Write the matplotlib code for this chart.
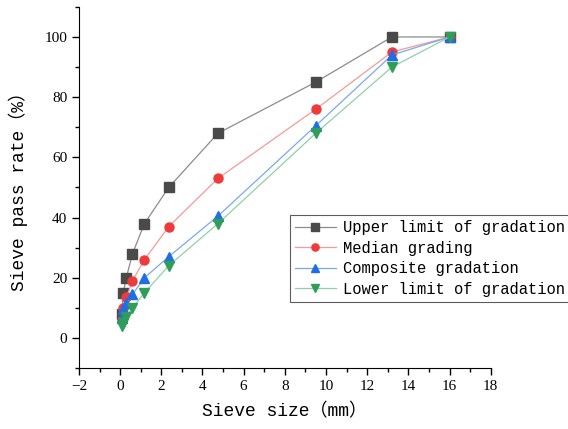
import matplotlib
matplotlib.use("Agg")
import matplotlib.pyplot as plt
from matplotlib.ticker import MultipleLocator

sieve = [0.075, 0.15, 0.3, 0.6, 1.18, 2.36, 4.75, 9.5, 13.2, 16]
upper = [8, 15, 20, 28, 38, 50, 68, 85, 100, 100]
median = [6, 10, 13.5, 19, 26, 37, 53, 76, 95, 100]
composite = [6.5, 9.5, 11.5, 14.5, 20, 27, 40.5, 70.5, 94, 100]
lower = [4, 5, 7, 10, 15, 24, 38, 68, 90, 100]
labels = ["Upper limit of gradation", "Median grading", "Composite gradation", "Lower limit of gradation"]
xticks = [-2, 0, 2, 4, 6, 8, 10, 12, 14, 16, 18]
yticks = [0, 20, 40, 60, 80, 100]

lab_font = ["Liberation Mono", "Noto Sans CJK SC"]
tick_font = "Liberation Serif"

fig = plt.figure(figsize=(5.68, 4.29), dpi=100)
ax = fig.add_axes([0.139, 0.142, 0.725, 0.842])

styles = [
    (upper, "s", "#4a4a4a", "#8c8c8c"),
    (median, "o", "#f03a3a", "#f59a9a"),
    (composite, "^", "#1f6ee6", "#7aa8ef"),
    (lower, "v", "#2e9e5a", "#8fd0a8"),
]
for (vals, mk, mc, lc), lab in zip(styles, labels):
    ax.plot(sieve, vals, color=lc, lw=0.9, marker=mk, ms=6.5,
            markerfacecolor=mc, markeredgecolor=mc, label=lab)

ax.set_xlim(-2, 18)
ax.set_ylim(-10, 110)
ax.set_xticks(xticks)
ax.set_xticklabels(["\u2212" + str(-v) if v < 0 else str(v) for v in xticks])
ax.xaxis.set_minor_locator(MultipleLocator(1))
ax.set_yticks(yticks)
ax.yaxis.set_minor_locator(MultipleLocator(10))
for s in ["top", "right"]:
    ax.spines[s].set_visible(False)
ax.tick_params(which="major", direction="out", length=5, width=1, labelsize=11)
ax.tick_params(which="minor", direction="out", length=3, width=1)
for t in ax.get_xticklabels() + ax.get_yticklabels():
    t.set_fontfamily(tick_font)

ax.set_xlabel("Sieve size\uff08mm\uff09", fontsize=13, family=lab_font, labelpad=7)
ax.set_ylabel("Sieve pass rate\uff08%\uff09", fontsize=13, family=lab_font, labelpad=12)

leg = ax.legend(loc="upper left", bbox_to_anchor=(0.512, 0.424), frameon=True, fancybox=False,
                prop={"family": lab_font, "size": 11.2}, handlelength=2.6, borderpad=0.35,
                labelspacing=0.35, handletextpad=0.5, borderaxespad=0, markerscale=0.8)
leg.get_frame().set_edgecolor("#333333")
leg.get_frame().set_linewidth(0.8)

fig.savefig("out.png", dpi=100)
